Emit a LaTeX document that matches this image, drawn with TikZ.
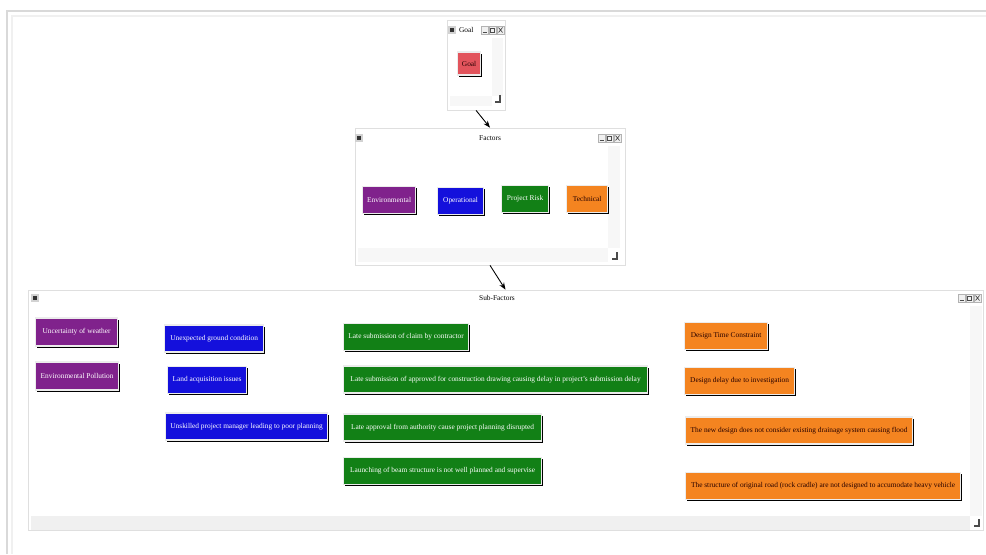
\documentclass[tikz,border=0pt]{standalone}
\usepackage{fontspec}
\setmainfont{Liberation Serif}
\usetikzlibrary{arrows.meta,shadows}

\definecolor{envpurple}{RGB}{128,34,140}
\definecolor{opblue}{RGB}{20,16,220}
\definecolor{riskgreen}{RGB}{18,128,22}
\definecolor{techorange}{RGB}{244,132,32}
\definecolor{goalred}{RGB}{226,84,92}

% title bar controls: right end x, centre y
\newcommand{\wctrl}[2]{%
  \draw[gray!60, fill=gray!12] (#1-24,#2-4) rectangle (#1-17,#2+4);
  \draw[black!70] (#1-22.5,#2+2) -- (#1-18.5,#2+2);
  \draw[gray!60, fill=gray!12] (#1-16,#2-4) rectangle (#1-9,#2+4);
  \draw[black!70] (#1-14.5,#2-2) rectangle (#1-10.5,#2+2);
  \draw[gray!60, fill=gray!12] (#1-8,#2-4) rectangle (#1-1,#2+4);
  \draw[black!70] (#1-6.5,#2-2.5) -- (#1-2.5,#2+2.5) (#1-6.5,#2+2.5) -- (#1-2.5,#2-2.5);
}
\newcommand{\wicon}[2]{%
  \draw[fill=black!80, draw=gray!35, line width=0.8pt] (#1-3,#2-3) rectangle (#1+3,#2+3);
}
\newcommand{\wcorner}[2]{%
  \draw[black!70, line width=0.6pt] (#1,#2-5) -- (#1,#2+2) -- (#1-5,#2+2);
}

\begin{document}
\begin{tikzpicture}[x=0.02cm, y=-0.02cm,
    font=\fontsize{4.2}{5}\selectfont,
    win/.style={draw=gray!25, fill=white, inner sep=0pt},
    btn/.style={fill=#1, draw=gray!15, line width=0.7pt, text=white, inner sep=1pt,
      anchor=west, minimum height=0.54cm,
      general shadow={fill=black, shadow xshift=0.9pt, shadow yshift=-0.9pt}},
    darkbtn/.style={btn=#1, text=black!85!red},
    arr/.style={-{Stealth[length=4pt,width=3pt]}, black, line width=0.5pt}]
    \useasboundingbox (0,0) rectangle (986,554);

    % outer frame
    \draw[gray!30, line width=0.8pt] (7,554) -- (7,11) -- (986,11);
    \draw[gray!12, line width=0.6pt] (12,554) -- (12,16) -- (986,16);

    % Goal window
    \node[win, minimum width=1.16cm, minimum height=1.8cm] (goalwin) at (476,65) {};
    \wicon{452}{30}
    \node[anchor=west, inner sep=1pt] (goaltitle) at (457,30) {Goal};
    \wctrl{505}{30}
    \fill[gray!6] (492,38) rectangle (503,96);
    \fill[gray!6] (450,96) rectangle (492,106);
    \wcorner{500}{100}
    \node[darkbtn=goalred, minimum width=0.46cm, minimum height=0.46cm] (goal) at (457,63.5) {Goal};

    % Factors window
    \node[win, minimum width=5.4cm, minimum height=2.74cm] (factwin) at (490,196.5) {};
    \wicon{359}{138}
    \node (facttitle) at (490,138) {Factors};
    \wctrl{622}{138}
    \fill[gray!6] (608,146) rectangle (620,248);
    \fill[gray!6] (358,248) rectangle (608,262);
    \wcorner{617}{257}
    \node[btn=envpurple, minimum width=1.06cm] (env) at (362,200) {Environmental};
    \node[btn=opblue, minimum width=0.92cm] (op) at (437,201) {Operational};
    \node[btn=riskgreen, minimum width=0.94cm] (risk) at (501,199) {Project Risk};
    \node[darkbtn=techorange, minimum width=0.82cm] (tech) at (566,199) {Technical};

    % Sub-Factors window
    \node[win, minimum width=19.1cm, minimum height=4.8cm] (subwin) at (505.5,410) {};
    \wicon{35}{298}
    \node (subtitle) at (497,298) {Sub-Factors};
    \wctrl{982}{298}
    \fill[gray!6] (970,306) rectangle (982,516);
    \fill[gray!12] (31,516) rectangle (970,530);
    \wcorner{979}{524}

    \node[btn=envpurple, minimum width=1.64cm, minimum height=0.56cm] (weather) at (35,332) {Uncertainty of weather};
    \node[btn=envpurple, minimum width=1.66cm, minimum height=0.56cm] (pollution) at (35,376) {Environmental Pollution};

    \node[btn=opblue, minimum width=1.98cm] (ground) at (164,338.5) {Unexpected ground condition};
    \node[btn=opblue, minimum width=1.58cm] (land) at (167,380) {Land acquisition issues};
    \node[btn=opblue, minimum width=3.24cm] (unskilled) at (165,426.5) {Unskilled project manager leading to poor planning};

    \node[btn=riskgreen, minimum width=2.5cm] (claim) at (343,337) {Late submission of claim by contractor};
    \node[btn=riskgreen, minimum width=6.08cm] (drawing) at (343,379.5) {Late submission of approved for construction drawing causing delay in project's submission delay};
    \node[btn=riskgreen, minimum width=3.96cm] (approval) at (343,427.5) {Late approval from authority cause project planning disrupted};
    \node[btn=riskgreen, minimum width=3.96cm] (beam) at (343,471) {Launching of beam structure is not well planned and supervise};

    \node[darkbtn=techorange, minimum width=1.66cm] (timecons) at (684,336) {Design Time Constraint};
    \node[darkbtn=techorange, minimum width=2.2cm] (investig) at (684,381) {Design delay due to investigation};
    \node[darkbtn=techorange, minimum width=4.54cm] (drainage) at (685,430.5) {The new design does not consider existing drainage system causing flood};
    \node[darkbtn=techorange, minimum width=5.5cm] (heavy) at (685,486) {The structure of original road (rock cradle) are not designed to accumodate heavy vehicle};

    % links between windows
    \draw[arr] (goalwin.south) -- (factwin.north);
    \draw[arr] (factwin.south) -- (subwin.north);
\end{tikzpicture}
\end{document}
